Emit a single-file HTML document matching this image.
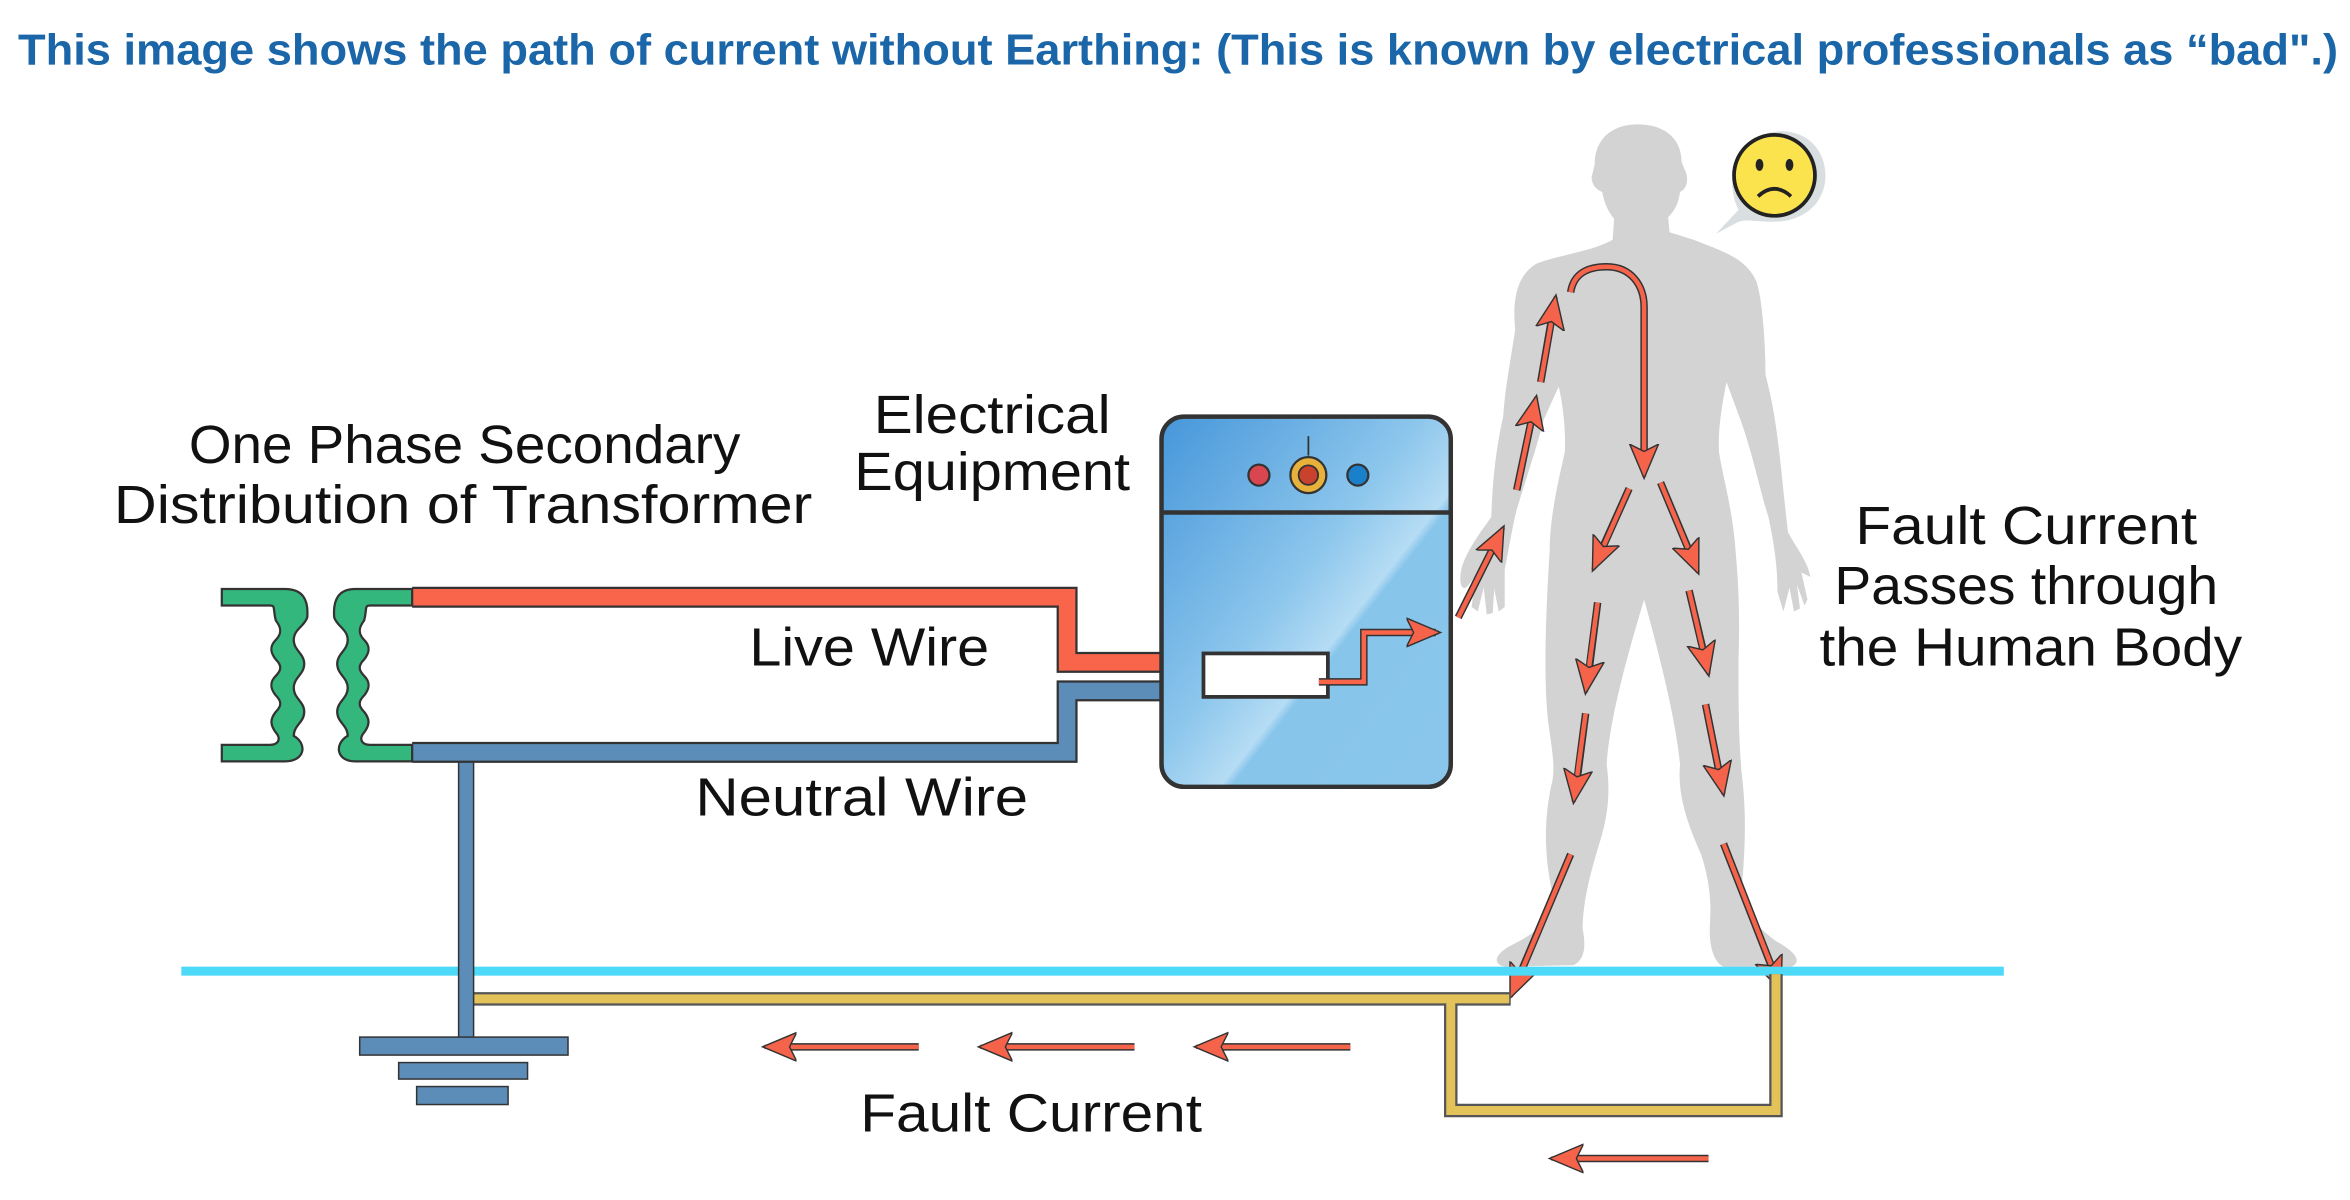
<!DOCTYPE html>
<html><head><meta charset="utf-8"><style>
html,body{margin:0;padding:0;background:#fff;}
svg{display:block;}
text{font-family:"Liberation Sans",sans-serif;}
</style></head><body>
<svg width="2350" height="1200" viewBox="0 0 1568 800.7" preserveAspectRatio="none" xmlns="http://www.w3.org/2000/svg">
<defs>
<marker id="ah" markerUnits="userSpaceOnUse" markerWidth="24" markerHeight="24" refX="18" refY="10" orient="auto" viewBox="0 0 20 20">
<path d="M0,2 L19,10 L0,18 L4,10 Z" fill="#f4634a" stroke="#333" stroke-width="0.8"/>
</marker>
<linearGradient id="box" x1="0" y1="0" x2="1" y2="1">
<stop offset="0" stop-color="#4696da"/><stop offset="0.45" stop-color="#8cc6ec"/><stop offset="0.6" stop-color="#b5dcf4"/><stop offset="0.62" stop-color="#88c5eb"/><stop offset="1" stop-color="#8ac6eb"/>
</linearGradient>
</defs>

<text x="12" y="43" font-size="29" font-weight="bold" fill="#1a66a8" textLength="1548" lengthAdjust="spacingAndGlyphs">This image shows the path of current without Earthing: (This is known by electrical professionals as “bad".)</text>

<g font-size="36" fill="#111" text-anchor="middle">
<text x="310" y="309" textLength="368" lengthAdjust="spacingAndGlyphs">One Phase Secondary</text>
<text x="309" y="349" textLength="466" lengthAdjust="spacingAndGlyphs">Distribution of Transformer</text>
<text x="662" y="289" textLength="158" lengthAdjust="spacingAndGlyphs">Electrical</text>
<text x="662" y="327" textLength="184" lengthAdjust="spacingAndGlyphs">Equipment</text>
<text x="580" y="444" textLength="160" lengthAdjust="spacingAndGlyphs">Live Wire</text>
<text x="575" y="544" textLength="222" lengthAdjust="spacingAndGlyphs">Neutral Wire</text>
<text x="688" y="755" textLength="228" lengthAdjust="spacingAndGlyphs">Fault Current</text>
<text x="1352" y="363" textLength="228" lengthAdjust="spacingAndGlyphs">Fault Current</text>
<text x="1352" y="403" textLength="256" lengthAdjust="spacingAndGlyphs">Passes through</text>
<text x="1355" y="444" textLength="282" lengthAdjust="spacingAndGlyphs">the Human Body</text>
</g>

<path fill="#d3d3d3" d="M1093,83 C1075,83 1064,93 1064,110 L1062,118 C1062,124 1066,127 1069,128 C1071,138 1074,142 1077,146 L1076,160 C1062,168 1040,170 1025,176 C1012,184 1009,200 1011,220 C1008,240 1004,260 1003,278 C998,300 996,320 995,345 C988,355 978,368 975,380 C973,390 976,396 980,390 L984,385 L982,405 L986,408 L990,392 L992,410 L996,409 L997,393 L1000,408 L1004,405 L1004,380 C1007,365 1009,352 1012,340 C1018,320 1025,300 1030,280 L1040,258 C1043,270 1045,290 1044,302 C1040,320 1034,345 1034,367 C1032,400 1030,440 1032,470 C1033,490 1038,505 1036,520 C1030,545 1030,570 1036,597 C1036,610 1030,620 1010,630 C997,636 995,644 1005,645 L1050,644 C1058,640 1058,630 1056,620 C1056,600 1062,580 1068,560 C1074,540 1074,525 1072,510 C1074,480 1085,440 1097,400 C1108,440 1118,480 1121,510 C1119,530 1126,550 1135,570 C1140,585 1142,600 1141,615 C1140,630 1143,642 1150,645 L1195,645 C1203,642 1198,635 1185,628 C1168,615 1162,605 1162,595 C1165,560 1165,540 1162,515 C1160,490 1160,470 1160,440 C1161,410 1160,390 1158,367 C1156,340 1150,320 1147,302 C1146,285 1150,265 1152,255 L1162,282 C1170,305 1175,330 1180,345 C1183,360 1186,375 1186,395 L1190,408 L1194,392 L1197,408 L1201,406 L1199,390 L1204,404 L1206,400 L1202,382 L1208,385 C1206,374 1198,365 1193,355 C1190,330 1188,305 1185,285 C1183,270 1180,258 1178,250 C1178,230 1176,200 1172,188 C1165,172 1150,168 1130,160 L1114,155 L1113,145 C1118,140 1120,135 1121,128 C1126,126 1127,118 1124,113 L1122,108 C1122,92 1110,83 1093,83 Z"/>

<path d="M1145,156 L1160,140 C1150,120 1158,92 1183,88 C1205,85 1218,100 1218,117 C1218,136 1203,148 1183,148 C1172,148 1165,146 1160,148 Z" fill="#d9dfe0"/>
<circle cx="1184" cy="117" r="27" fill="#fbe34e" stroke="#222" stroke-width="2.5"/>
<ellipse cx="1174" cy="110" rx="2.6" ry="4" fill="#222"/>
<ellipse cx="1194" cy="110" rx="2.6" ry="4" fill="#222"/>
<path d="M1173,131 Q1184,121 1195,131" fill="none" stroke="#222" stroke-width="2.5"/>

<g stroke="#333" stroke-width="5" fill="none">
<line x1="973" y1="412" x2="1001" y2="356"/>
<line x1="1012" y1="327" x2="1024" y2="270"/>
<line x1="1028" y1="255" x2="1037" y2="203"/>
<path d="M1048,195 C1050,182 1060,178 1072,178 C1088,178 1097,190 1097,205 L1097,312"/>
<line x1="1087" y1="326" x2="1065" y2="375"/>
<line x1="1108" y1="322" x2="1131" y2="377"/>
<line x1="1066" y1="402" x2="1059" y2="457"/>
<line x1="1127" y1="394" x2="1139" y2="445"/>
<line x1="1058" y1="476" x2="1051" y2="530"/>
<line x1="1138" y1="470" x2="1149" y2="525"/>
<line x1="1048" y1="570" x2="1010" y2="660"/>
<line x1="1150" y1="563" x2="1186" y2="655"/>
</g>
<g stroke="#f4634a" stroke-width="3" fill="none" marker-end="url(#ah)">
<line x1="973" y1="412" x2="1003" y2="352"/>
<line x1="1012" y1="327" x2="1025" y2="265"/>
<line x1="1028" y1="255" x2="1038" y2="198"/>
<path d="M1048,195 C1050,182 1060,178 1072,178 C1088,178 1097,190 1097,205 L1097,318"/>
<line x1="1087" y1="326" x2="1063" y2="380"/>
<line x1="1108" y1="322" x2="1133" y2="382"/>
<line x1="1066" y1="402" x2="1058" y2="462"/>
<line x1="1127" y1="394" x2="1140" y2="450"/>
<line x1="1058" y1="476" x2="1050" y2="535"/>
<line x1="1138" y1="470" x2="1150" y2="530"/>
<line x1="1048" y1="570" x2="1008" y2="665"/>
<line x1="1150" y1="563" x2="1188" y2="660"/>
</g>

<rect x="121" y="645" width="1216" height="6" fill="#4dd9f8"/>
<path d="M316,666.5 L1008,666.5 M968,666.5 L968,741 L1185,741 L1185,650" fill="none" stroke="#555" stroke-width="9"/>
<path d="M316,666.5 L1007,666.5 M968,666.5 L968,741 L1185,741 L1185,650" fill="none" stroke="#e3c25a" stroke-width="6"/>

<rect x="306" y="508" width="10" height="186" fill="#5b8db8" stroke="#333" stroke-width="1"/>
<rect x="240" y="692" width="139" height="12" fill="#5b8db8" stroke="#333" stroke-width="1"/>
<rect x="266" y="709" width="86" height="11" fill="#5b8db8" stroke="#333" stroke-width="1"/>
<rect x="278" y="725" width="61" height="12" fill="#5b8db8" stroke="#333" stroke-width="1"/>

<path d="M275,398.5 L712,398.5 L712,442 L803,442" fill="none" stroke="#333" stroke-width="14"/>
<path d="M275,398.5 L712,398.5 L712,442 L803,442" fill="none" stroke="#f8654a" stroke-width="11"/>
<path d="M275,502 L712,502 L712,461 L803,461" fill="none" stroke="#333" stroke-width="14"/>
<path d="M275,502 L712,502 L712,461 L803,461" fill="none" stroke="#5b8db8" stroke-width="11"/>

<g fill="#34b77c" stroke="#333" stroke-width="1.5">
<path d="M148,393 L190,393 C202,393 206,400 205,412 C203,418 196,420 196,427 C196,434 203,436 203,443 C203,450 196,452 196,459 C196,466 203,468 203,475 C203,482 196,484 196,491 C205,496 204,508 190,508 L148,508 L148,497 L180,497 C186,497 187,493 185,490 C180,484 180,480 184,475 C188,471 188,468 184,464 C180,459 180,455 184,451 C188,447 188,444 184,440 C180,435 180,431 184,427 C188,423 188,419 184,414 C182,406 184,404 180,404 L148,404 Z"/>
<path d="M275,393 L237,393 C226,393 222,400 223,412 C225,418 232,420 232,427 C232,434 225,436 225,443 C225,450 232,452 232,459 C232,466 225,468 225,475 C225,482 232,484 232,491 C223,496 224,508 237,508 L275,508 L275,497 L247,497 C241,497 240,493 242,490 C247,484 247,480 243,475 C239,471 239,468 243,464 C247,459 247,455 243,451 C239,447 239,444 243,440 C247,435 247,431 243,427 C239,423 239,419 243,414 C245,406 243,404 247,404 L275,404 Z"/>
</g>

<rect x="775" y="278" width="193" height="247" rx="15" fill="url(#box)" stroke="#333" stroke-width="3"/>
<line x1="775" y1="342" x2="968" y2="342" stroke="#333" stroke-width="3"/>
<circle cx="840" cy="317" r="7" fill="#d9464f" stroke="#333" stroke-width="1.5"/>
<line x1="873" y1="291" x2="873" y2="304" stroke="#333" stroke-width="1.2"/>
<circle cx="873" cy="317" r="12" fill="#e8b13c" stroke="#333" stroke-width="1.5"/>
<circle cx="873" cy="317" r="6.5" fill="#c8422e" stroke="#333" stroke-width="1.2"/>
<circle cx="906" cy="317" r="7" fill="#1a80cc" stroke="#333" stroke-width="1.5"/>
<rect x="803" y="436" width="83" height="29" fill="#fff" stroke="#333" stroke-width="2.5"/>
<path d="M880,455 L910,455 L910,422 L958,422" fill="none" stroke="#333" stroke-width="5"/>
<path d="M880,455 L910,455 L910,422 L960,422" fill="none" stroke="#f8654a" stroke-width="3" marker-end="url(#ah)"/>

<g stroke="#333" stroke-width="5">
<line x1="613" y1="698.5" x2="520" y2="698.5"/>
<line x1="757" y1="698.5" x2="664" y2="698.5"/>
<line x1="901" y1="698.5" x2="808" y2="698.5"/>
<line x1="1140" y1="773" x2="1046" y2="773"/>
</g>
<g stroke="#f4634a" stroke-width="3" marker-end="url(#ah)">
<line x1="613" y1="698.5" x2="510" y2="698.5"/>
<line x1="757" y1="698.5" x2="654" y2="698.5"/>
<line x1="901" y1="698.5" x2="798" y2="698.5"/>
<line x1="1140" y1="773" x2="1035" y2="773"/>
</g>
</svg>
</body></html>
